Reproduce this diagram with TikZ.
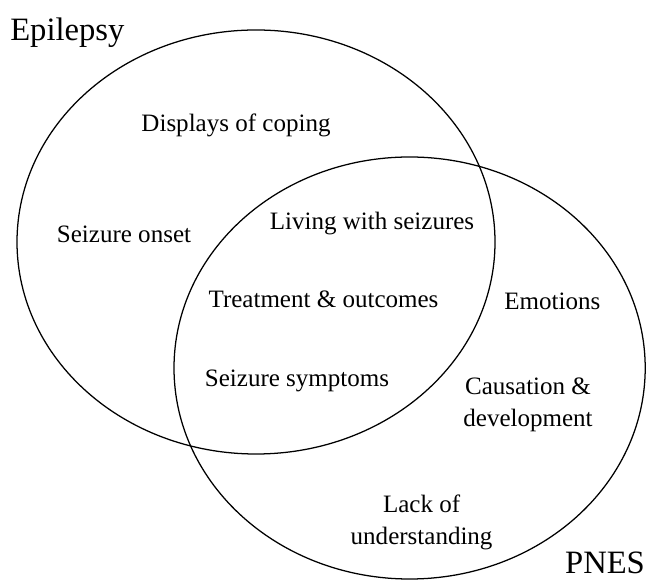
\documentclass[tikz,border=0pt]{standalone}
\usepackage{fontspec}
\setmainfont{Liberation Serif}
\newfontfamily\vennfont{Liberation Serif}
\tikzset{
  set/.style={draw, line width=0.9pt},
  topic/.style={font=\vennfont\fontsize{17.8}{22.7}\selectfont, align=center, inner sep=0pt},
  setname/.style={font=\vennfont\fontsize{23.2}{27}\selectfont, inner sep=0pt}
}
\begin{document}
\begin{tikzpicture}
        \useasboundingbox (0,0) rectangle (16.15,14.5);

        \coordinate (epi) at (6.4,8.45);
        \coordinate (pnes) at (10.24,5.3);
        \draw[set] (epi) ellipse [x radius=5.975, y radius=5.3];
        \draw[set] (pnes) ellipse [x radius=5.89, y radius=5.275];

        \node[setname, anchor=base west] (epilabel) at (0.25,13.475) {Epilepsy};
        \node[setname, anchor=base] (pneslabel) at (15.125,0.175) {PNES};

        \node[topic, anchor=base] (coping) at (5.9,11.2) {Displays of coping};
        \node[topic, anchor=base] (onset) at (3.1,8.425) {Seizure onset};
        \node[topic, anchor=base] (living) at (9.3,8.75) {Living with seizures};
        \node[topic, anchor=base] (treatment) at (8.0875,6.8) {Treatment \& outcomes};
        \node[topic, anchor=base] (symptoms) at (7.425,4.825) {Seizure symptoms};
        \node[topic, anchor=base] (emotions) at (13.81,6.75) {Emotions};
        \node[topic] (causation) at (13.2,4.375) {Causation \&\\development};
        \node[topic] (lack) at (10.54,1.45) {Lack of\\understanding};
      \end{tikzpicture}
\end{document}
